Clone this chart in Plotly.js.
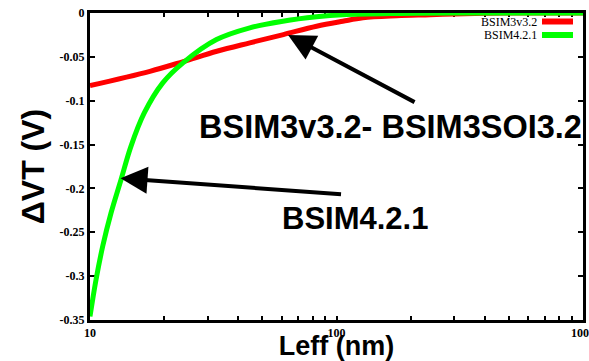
<!DOCTYPE html>
<html>
<head>
<meta charset="utf-8">
<script src="https://cdn.plot.ly/plotly-3.0.1.min.js"></script>
<style>html,body{margin:0;padding:0;background:#fff;}#chart{width:589px;height:361px;}</style>
</head>
<body>
<div id="chart"></div>
<script>
// Series names
const seriesNames = ['BSIM3v3.2', 'BSIM4.2.1'];
// BSIM3v3.2 (red)
const leffRed = [10, 17.5, 23.9, 32.7, 44.5, 60.9, 83, 106, 128, 176, 240, 300, 400, 600, 1000];
const dvtRed  = [-0.0828, -0.0665, -0.0554, -0.0436, -0.034, -0.0246, -0.0151, -0.0094, -0.0055, -0.0032, -0.002, -0.001, -0.0003, 0, 0];
// BSIM4.2.1 (green)
const leffGreen = [10, 10.58, 11.26, 12.17, 13.36, 14.66, 16.6, 19.73, 23.9, 32.6, 44.5, 60.6, 83, 106, 180, 300, 1000];
const dvtGreen  = [-0.346, -0.304, -0.266, -0.228, -0.19, -0.152, -0.114, -0.0797, -0.0566, -0.0303, -0.0169, -0.0094, -0.0044, -0.002, -0.0005, 0, 0];
// Axis ticks
const xTickVals = [10,20,30,40,50,60,70,80,90,100,200,300,400,500,600,700,800,900,1000];
const xTickText = ['10','','','','','','','','','100','','','','','','','','','1000'];
const yTickVals = [0,-0.05,-0.1,-0.15,-0.2,-0.25,-0.3,-0.35];
const yTickText = ['0','-0.05','-0.1','-0.15','-0.2','-0.25','-0.3','-0.35'];
// Annotation labels
const labelA = 'BSIM3v3.2- BSIM3SOI3.2';
const labelB = 'BSIM4.2.1';
const arrowHeadA = {L: 63.6, v: -0.025};
const arrowHeadB = {L: 13.3, v: -0.1885};

const colors = ['#ff0000', '#00ff00'];

const traces = [
  {x: leffRed, y: dvtRed, name: seriesNames[0], mode: 'lines', line: {color: colors[0], width: 5, shape: 'spline', smoothing: 1}},
  {x: leffGreen, y: dvtGreen, name: seriesNames[1], mode: 'lines', line: {color: colors[1], width: 5, shape: 'spline', smoothing: 1}}
];

const L = 90, R = 6, T = 13, B = 41;
const W = 589, H = 361;
const pw = W - L - R, ph = H - T - B;
function px(xp){ return (xp - L) / pw; }
function py(yp){ return (H - B - yp) / ph; }
const bold = s => s ? '<b>' + s + '</b>' : '';

const axisCommon = {
  showline: true, linecolor: '#000', linewidth: 3, mirror: 'ticks',
  ticks: 'inside', tickcolor: '#000', tickwidth: 2,
  showgrid: false, zeroline: false, layer: 'below traces',
  ticklabeloverflow: 'allow',
  tickfont: {family: 'Liberation Serif, Times New Roman, serif', size: 12, color: '#000'}
};

const layout = {
  width: W, height: H,
  margin: {l: L, r: R, t: T, b: B},
  paper_bgcolor: '#fff', plot_bgcolor: '#fff',
  showlegend: false,
  xaxis: Object.assign({}, axisCommon, {
    type: 'log', range: [1, 3], tickmode: 'array', tickvals: xTickVals, ticktext: xTickText.map(bold),
    ticklen: 4, ticklabelstandoff: 0,
    title: {text: 'Leff (nm)', font: {family: 'Liberation Sans, Arial, sans-serif', size: 27, color: '#000', weight: 'bold'}, standoff: 2}
  }),
  yaxis: Object.assign({}, axisCommon, {
    range: [-0.35, 0], tickmode: 'array', tickvals: yTickVals, ticktext: yTickText.map(bold), ticklen: 5,
    title: {text: '\u0394VT (V)', font: {family: 'Liberation Sans, Arial, sans-serif', size: 32, color: '#000', weight: 'bold'}, standoff: 6}
  }),
  annotations: [
    {xref: 'paper', yref: 'paper', x: px(390), y: py(127), text: labelA, showarrow: false, xanchor: 'center', yanchor: 'middle',
     font: {family: 'Liberation Sans, Arial, sans-serif', size: 32.5, color: '#000', weight: 'bold'}},
    {xref: 'paper', yref: 'paper', x: px(355), y: py(218), text: labelB, showarrow: false, xanchor: 'center', yanchor: 'middle',
     font: {family: 'Liberation Sans, Arial, sans-serif', size: 31, color: '#000', weight: 'bold'}},
    {x: Math.log10(arrowHeadA.L), y: arrowHeadA.v, text: '', showarrow: true, ax: 128, ay: 68,
     arrowhead: 2, arrowsize: 1.35, arrowwidth: 4, arrowcolor: '#000'},
    {x: Math.log10(arrowHeadB.L), y: arrowHeadB.v, text: '', showarrow: true, ax: 222, ay: 16,
     arrowhead: 2, arrowsize: 1.35, arrowwidth: 4, arrowcolor: '#000'},
    // manual legend (text left of swatch)
    {xref: 'paper', yref: 'paper', x: px(539), y: py(21.5), text: seriesNames[0], showarrow: false, xanchor: 'right', yanchor: 'middle',
     font: {family: 'Liberation Serif, Times New Roman, serif', size: 12, color: '#000'}},
    {xref: 'paper', yref: 'paper', x: px(539), y: py(35), text: seriesNames[1], showarrow: false, xanchor: 'right', yanchor: 'middle',
     font: {family: 'Liberation Serif, Times New Roman, serif', size: 12, color: '#000'}}
  ],
  shapes: [
    {type: 'line', xref: 'paper', yref: 'paper', x0: px(542), x1: px(573), y0: py(21.5), y1: py(21.5), line: {color: colors[0], width: 6}},
    {type: 'line', xref: 'paper', yref: 'paper', x0: px(542), x1: px(573), y0: py(35), y1: py(35), line: {color: colors[1], width: 6}}
  ]
};

Plotly.newPlot('chart', traces, layout, {displayModeBar: false, staticPlot: true});
</script>
</body>
</html>
